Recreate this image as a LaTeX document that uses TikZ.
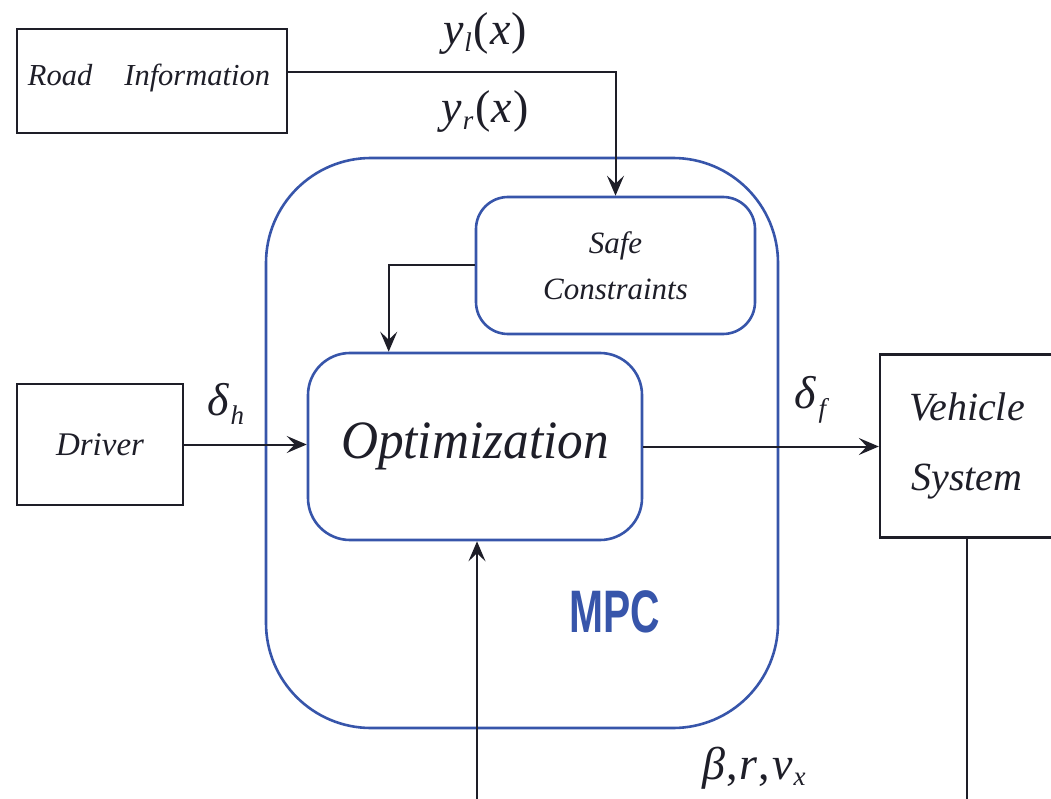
\documentclass[tikz,border=0pt]{standalone}
\usepackage{fontspec}
\setmainfont{Liberation Serif}
\newfontfamily\mpcfont{Liberation Sans}
\usetikzlibrary{arrows.meta,calc}
\definecolor{mpcblue}{RGB}{55,85,170}
\definecolor{ink}{RGB}{30,30,40}
\newcommand{\vsub}[2]{\textit{#1}\kern1pt\raisebox{-0.3ex}{\fontsize{27}{27}\selectfont\textit{#2}}}
\begin{document}
\begin{tikzpicture}[x=1pt,y=-1pt,
  blackbox/.style={draw=ink,line width=2.4pt,rectangle,inner sep=0pt},
  bluebox/.style={draw=mpcblue,line width=2.6pt,rectangle,inner sep=0pt},
  arr/.style={draw=ink,line width=2pt,-{Stealth[length=20pt,width=17pt,inset=8pt]}},
  wire/.style={draw=ink,line width=2pt},
  lbl/.style={font=\fontsize{30}{32}\selectfont\itshape,text=ink,align=center},
  mathlbl/.style={font=\fontsize{46}{48}\selectfont,text=ink,inner sep=0pt}]
\clip (0,0) rectangle (1051,799);
\fill[white] (0,0) rectangle (1051,799);
% blocks
\node[blackbox,minimum width=270pt,minimum height=104pt] (road) at (152,81) {};
\node[lbl,font=\fontsize{30.5}{32}\selectfont\itshape,inner sep=0pt] (roadtxt) at (149,78) {Road\hspace{1.05em}Information};
\node[blackbox,minimum width=166pt,minimum height=121pt,lbl,font=\fontsize{33}{34}\selectfont\itshape] (driver) at (100,444.5) {Driver};
\node[bluebox,minimum width=512pt,minimum height=570pt,rounded corners=105pt] (mpc) at (522,443) {};
\node[bluebox,minimum width=279pt,minimum height=137pt,rounded corners=32pt,lbl,font=\fontsize{31}{46}\selectfont\itshape] (safe) at (615.5,265.5) {Safe\\Constraints};
\node[bluebox,minimum width=334pt,minimum height=187pt,rounded corners=42pt,lbl,font=\fontsize{54}{56}\selectfont\itshape] (opt) at (475,446.5) {\scalebox{0.95}[1]{Optimization}};
\node[blackbox,minimum width=174pt,minimum height=183pt,lbl,font=\fontsize{40}{70}\selectfont\itshape] (veh) at (967,446) {Vehicle\\System};
\node[text=mpcblue,font=\fontsize{60}{60}\mpcfont\bfseries] (mpclbl) at (615,612) {\scalebox{0.68}[1]{MPC}};
% labels
\node[mathlbl] (yl) at (485,34) {\vsub{y}{l}\kern2pt(\kern1pt\textit{x}\kern1pt)};
\node[mathlbl] (yr) at (485,112) {\vsub{y}{r}\kern2pt(\kern1pt\textit{x}\kern1pt)};
\node[mathlbl] (dh) at (226,404) {\textit{δ}\kern1pt\raisebox{-0.45ex}{\fontsize{27}{27}\selectfont\textit{h}}};
\node[mathlbl] (df) at (812,400) {\textit{δ}\kern2pt\raisebox{-0.45ex}{\fontsize{27}{27}\selectfont\textit{f}}};
\node[mathlbl] (brv) at (754,768) {\textit{β}\kern1pt,\kern2pt\textit{r}\kern1pt,\kern2pt\vsub{v}{x}};
% connectors
\draw[arr] ([yshift=9pt]road.east) -| (safe.north);
\draw[arr] (safe.west) -| ([xshift=82pt]opt.north west);
\draw[arr] (driver.east) -- (driver.east -| opt.west);
\draw[arr] (opt.east) -- (opt.east -| veh.west);
\coordinate (b1) at (477,805);
\coordinate (b2) at (971,805);
\draw[arr] (b1) -- (b1 |- opt.south);
\draw[wire] (veh.south) -- (veh.south |- b2);
\end{tikzpicture}
\end{document}
